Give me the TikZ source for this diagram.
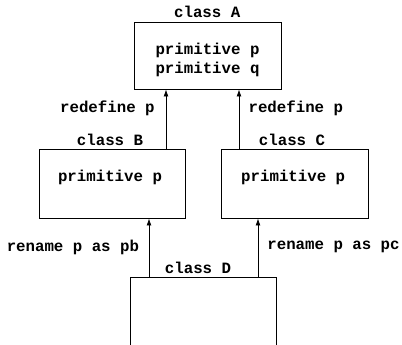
\documentclass[tikz,border=0pt]{standalone}
\usepackage{fontspec}
\setmonofont{Liberation Mono}
\usetikzlibrary{arrows.meta}
\tikzset{
  classbox/.style={draw=black, line width=0.6pt, inner sep=0pt},
  classname/.style={font=\ttfamily\bfseries\fontsize{11.2}{13}\selectfont, anchor=base},
  feature/.style={font=\ttfamily\bfseries\fontsize{11.2}{13}\selectfont, align=center},
  link/.style={line width=0.6pt, -{Latex[length=5pt,width=3.5pt]}},
}
\begin{document}
\begin{tikzpicture}
\useasboundingbox (0,0) rectangle (10.05,8.6);
\clip (0,0) rectangle (10.05,8.6);
% the four classes
\node[classbox, minimum width=3.675cm, minimum height=1.675cm] (A) at (5.1875,7.2125) {};
\node[classbox, minimum width=3.65cm, minimum height=1.725cm] (B) at (2.800,4.0125) {};
\node[classbox, minimum width=3.675cm, minimum height=1.725cm] (C) at (7.3625,4.0125) {};
\node[classbox, minimum width=3.65cm, minimum height=2.2cm] (D) at (5.075,0.575) {};
\node[classname] (nameA) at (5.18,8.16) {class A};
\node[classname] (nameB) at (2.75,4.96) {class B};
\node[classname] (nameC) at (7.30,4.96) {class C};
\node[classname] (nameD) at (4.95,1.76) {class D};
\node[feature] (featA) at (5.1875,7.10) {primitive p\\primitive q};
\node[feature] (featB) at (2.75,4.175) {primitive p};
\node[feature] (featC) at (7.33,4.175) {primitive p};
% inheritance links
\coordinate (bp) at (4.15,0);
\coordinate (cp) at (5.975,0);
\coordinate (dpb) at (3.725,0);
\coordinate (dpc) at (6.45,0);
\draw[link] (B.north -| bp) -- (A.south -| bp);
\draw[link] (C.north -| cp) -- (A.south -| cp);
\draw[link] (D.north -| dpb) -- (B.south -| dpb);
\draw[link] (D.north -| dpc) -- (C.south -| dpc);
\node[feature, anchor=east] (redefB) at (3.99,5.9) {redefine p};
\node[feature, anchor=west] (redefC) at (6.09,5.9) {redefine p};
\node[feature, anchor=east] (renB) at (3.60,2.42) {rename p as pb};
\node[feature, anchor=west] (renC) at (6.56,2.42) {rename p as pc};
\end{tikzpicture}
\end{document}
